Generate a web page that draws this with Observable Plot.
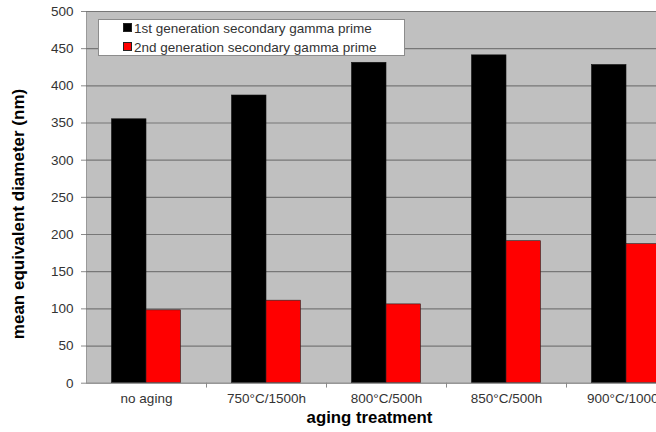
<!DOCTYPE html>
<html>
<head>
<meta charset="utf-8">
<script src="https://cdn.jsdelivr.net/npm/d3@7"></script>
<script src="https://cdn.jsdelivr.net/npm/@observablehq/plot@0.6"></script>
<style>
  body { margin: 0; background: #fff; font-family: Arial, "Liberation Sans", sans-serif; }
  #wrap { position: relative; width: 656px; height: 432px; overflow: hidden; }
  #legend { position: absolute; left: 98px; top: 19px; width: 305px; height: 35px;
    background: #fff; border: 1px solid #8c8c8c; font-size: 13.5px; color: #333; }
  .row { position: absolute; left: 24px; height: 18px; line-height: 18px; white-space: nowrap; }
  .sw { display: inline-block; width: 7px; height: 7px; border: 1px solid #222; margin-right: 2px; vertical-align: 1px; }
  .title { position: absolute; font-weight: bold; color: #000; white-space: nowrap; line-height: 1; }
  #ytitle { font-size: 17px; left: 18px; top: 214px; transform: translate(-50%, -50%) rotate(-90deg); }
  #xtitle { font-size: 16.8px; left: 369.5px; top: 418px; transform: translate(-50%, -50%); }
</style>
</head>
<body>
<div id="wrap"></div>
<script>
const categories = ["no aging", "750°C/1500h", "800°C/500h", "850°C/500h", "900°C/1000h"];
const seriesNames = ["1st generation secondary gamma prime", "2nd generation secondary gamma prime"];
const firstGen = [355, 387, 431, 441, 428];
const secondGen = [98, 111, 106, 191, 187];
const yTicks = [0, 50, 100, 150, 200, 250, 300, 350, 400, 450, 500];
const colors = ["#000000", "#ff0000"];
const yTitle = "mean equivalent diameter (nm)";
const xTitle = "aging treatment";

const rows1 = categories.map((c, i) => ({cat: c, v: firstGen[i]}));
const rows2 = categories.map((c, i) => ({cat: c, v: secondGen[i]}));

const W = 700, ML = 86, MR = 14;
const step = (W - ML - MR) / categories.length;
const barW = step * 0.2875, pad = (step - 2 * barW) / 2;

const chart = Plot.plot({
  width: W, height: 432,
  marginLeft: ML, marginRight: MR, marginTop: 11, marginBottom: 49.3,
  style: {maxWidth: "none", fontFamily: "Arial, 'Liberation Sans', sans-serif", background: "white", overflow: "visible"},
  x: {domain: categories, padding: 0, axis: null},
  y: {domain: [0, 500], ticks: yTicks, axis: null},
  marks: [
    Plot.frame({fill: "#c0c0c0", stroke: "#9a9a9a"}),
    Plot.gridY(yTicks.filter(d => d > 0), {stroke: "#777", strokeOpacity: 1, strokeWidth: 1.2}),
    Plot.barY(rows1, {x: "cat", y: "v", fill: colors[0], stroke: "#111", strokeWidth: 0.6, insetLeft: pad, insetRight: step - pad - barW}),
    Plot.barY(rows2, {x: "cat", y: "v", fill: colors[1], stroke: "#222", strokeWidth: 0.6, insetLeft: pad + barW, insetRight: pad}),
    Plot.ruleY([0], {stroke: "#8a8a8a"}),
    Plot.ruleX(categories.slice(1), {x: d => d, dx: -step / 2, y1: 0, y2: -6.5, stroke: "#8a8a8a"}),
    Plot.axisY({ticks: yTicks, tickSize: 5, tickPadding: 8, fontSize: 13.5, color: "#8a8a8a", fill: "#333", label: null, tickFormat: d => String(d)}),
    Plot.axisX({tickSize: 0, tickPadding: 10, fontSize: 13.5, fill: "#333", label: null})
  ]
});

const wrap = document.getElementById("wrap");
wrap.appendChild(chart);
const legend = document.createElement("div");
legend.id = "legend";
seriesNames.forEach((name, i) => {
  const r = document.createElement("div");
  r.className = "row";
  r.style.top = (i === 0 ? 0 : 18.5) + "px";
  const s = document.createElement("span");
  s.className = "sw";
  s.style.background = colors[i];
  r.appendChild(s);
  r.appendChild(document.createTextNode(name));
  legend.appendChild(r);
});
wrap.appendChild(legend);
[["ytitle", yTitle], ["xtitle", xTitle]].forEach(([id, t]) => {
  const d = document.createElement("div");
  d.id = id; d.className = "title"; d.textContent = t;
  wrap.appendChild(d);
});
</script>
</body>
</html>
